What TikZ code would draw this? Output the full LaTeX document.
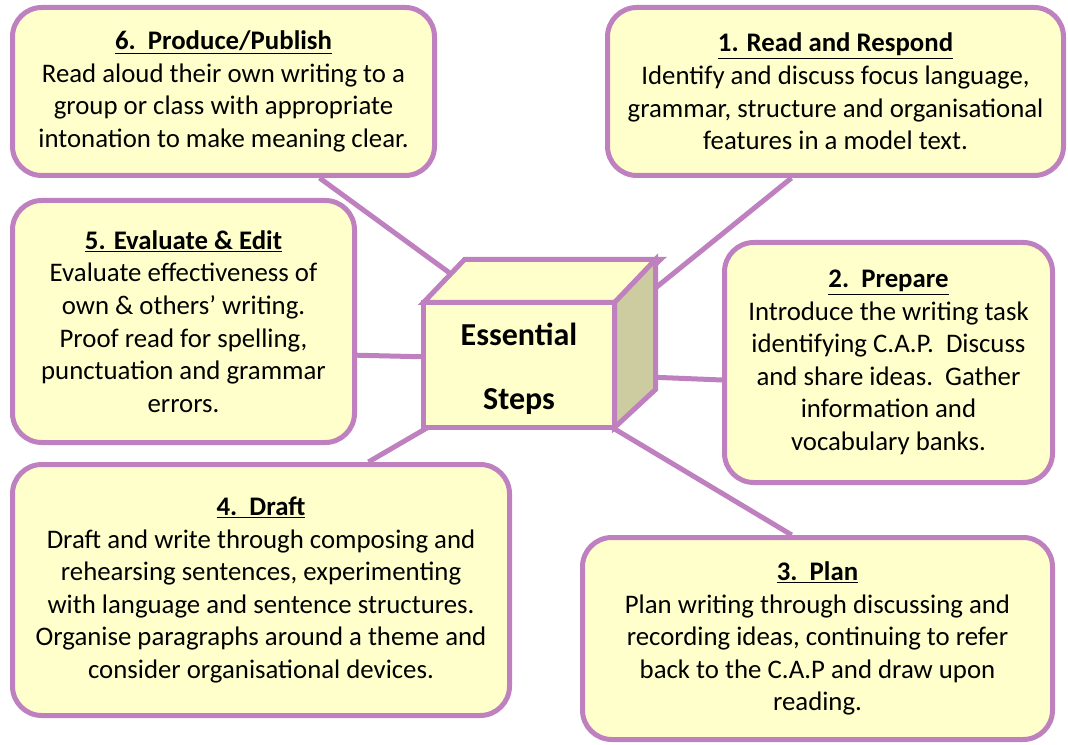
\documentclass[tikz,border=0pt]{standalone}
\usepackage{fontspec}
\setmainfont{Carlito}
\definecolor{stepline}{RGB}{191,128,191}
\definecolor{stepfill}{RGB}{255,255,204}
\definecolor{sideface}{RGB}{204,204,160}
\pgfdeclarelayer{back}
\pgfsetlayers{back,main}
\newcommand{\steptitle}[1]{\underline{\textbf{#1}}}
\begin{document}
\begin{tikzpicture}[x=0.75pt,y=-0.75pt,
  stepbox/.style={draw=stepline,fill=stepfill,line width=3.75pt,rounded corners=22pt,
    align=center,inner sep=0pt,font=\fontsize{20.1}{24.4}\selectfont},
  cubeface/.style={draw=stepline,line width=3.75pt},
  link/.style={draw=stepline,line width=3.75pt}]
\useasboundingbox (0,0) rectangle (1068,745);
% the six steps
\node[stepbox,minimum width=316.5pt,minimum height=126pt] (s6) at (223.5,91.5)
  {\steptitle{6.\ \ Produce/Publish}\\Read aloud their own writing to a\\group or class with appropriate\\intonation to make meaning clear.};
\node[stepbox,minimum width=342pt,minimum height=126pt] (s1) at (835.5,91.5)
  {\steptitle{1. Read and Respond}\\Identify and discuss focus language,\\grammar, structure and organisational\\features in a model text.};
\node[stepbox,minimum width=256.5pt,minimum height=181.5pt] (s5) at (183.5,321.5)
  {\steptitle{5. Evaluate \& Edit}\\Evaluate effectiveness of\\own \& others’ writing.\\Proof read for spelling,\\punctuation and grammar\\errors.};
\node[stepbox,minimum width=246pt,minimum height=180pt] (s2) at (888.5,362.5)
  {\steptitle{2.\ \ Prepare}\\Introduce the writing task\\identifying C.A.P.\ \ Discuss\\and share ideas.\ \ Gather\\information and\\vocabulary banks.};
\node[stepbox,minimum width=372.75pt,minimum height=188.25pt] (s4) at (261,590)
  {\steptitle{4.\ \ Draft}\\Draft and write through composing and\\rehearsing sentences, experimenting\\with language and sentence structures.\\Organise paragraphs around a theme and\\consider organisational devices.};
\node[stepbox,minimum width=352.5pt,minimum height=151.5pt] (s3) at (817.5,638.5)
  {\steptitle{3.\ \ Plan}\\Plan writing through discussing and\\recording ideas, continuing to refer\\back to the C.A.P and draw upon\\reading.};
% the box in the middle
\node[cubeface,fill=stepfill,minimum width=143.25pt,minimum height=93.75pt,outer sep=0pt,
  align=center,font=\fontsize{24}{48}\selectfont\bfseries] (cube) at (519,365) {};
\node[align=center,font=\fontsize{24}{48}\selectfont\bfseries] (steps) at (519,369) {Essential\\Steps};
\draw[cubeface,fill=stepfill] (cube.north west) -- ++(41,-43) -- ++(196,0) -- (cube.north east) -- cycle;
\draw[cubeface,fill=sideface] (cube.north east) -- ++(41,-43) -- ++(0,130) -- (cube.south east) -- cycle;
\coordinate (c6) at (462,282);
\coordinate (c1) at (648,294);
\coordinate (c5) at (432,357);
\coordinate (c2) at (648,377);
\coordinate (c4) at (432,425);
\coordinate (c3) at (608,425);
\begin{pgfonlayer}{back}
\draw[link] (s6.-42.6) -- (c6);
\draw[link] (s1.-117.6) -- (c1);
\draw[link] (s5.-11.6) -- (c5);
\draw[link] (s2.-174) -- (c2);
\draw[link] (s4.50.9) -- (c4);
\draw[link] (s3.104.9) -- (c3);
\end{pgfonlayer}
\end{tikzpicture}
\end{document}
